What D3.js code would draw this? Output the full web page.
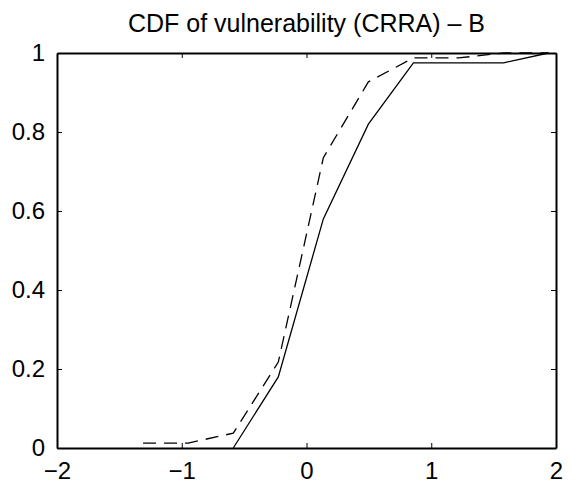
<!DOCTYPE html>
<html>
<head>
<meta charset="utf-8">
<script src="https://cdn.jsdelivr.net/npm/d3@7"></script>
<style>
  html, body { margin: 0; padding: 0; background: #fff; }
  svg { display: block; }
  text { font-family: "Liberation Sans", Arial, Helvetica, sans-serif; fill: #000; }
</style>
</head>
<body>
<svg id="chart" width="575" height="486"></svg>
<script>
// Evaluation grid shared by both empirical CDFs
const gridX = [-1.31, -0.948, -0.587, -0.226, 0.135, 0.496, 0.857, 1.218, 1.579, 1.94];

// Solid series (starts at the first grid point where it leaves zero)
const solidX = [-0.587, -0.226, 0.135, 0.496, 0.857, 1.218, 1.579, 1.94];
const solidY = [0, 0.18, 0.58, 0.82, 0.975, 0.975, 0.975, 1];

// Dashed series
const dashedX = gridX;
const dashedY = [0.0125, 0.0125, 0.0375, 0.2175, 0.735, 0.927, 0.9875, 0.9875, 1, 1];

const xTicks = [-2, -1, 0, 1, 2];
const yTicks = [0, 0.2, 0.4, 0.6, 0.8, 1];
const xTickLabels = ["\u22122", "\u22121", "0", "1", "2"];
const yTickLabels = ["0", "0.2", "0.4", "0.6", "0.8", "1"];
const title = "CDF of vulnerability (CRRA) \u2013 B";

const margin = { left: 57, right: 19, top: 53, bottom: 38 };
const W = 575, H = 486;
const iw = W - margin.left - margin.right;
const ih = H - margin.top - margin.bottom;

const svg = d3.select("#chart");
const g = svg.append("g").attr("transform", `translate(${margin.left},${margin.top})`);

const x = d3.scaleLinear().domain([-2, 2]).range([0, iw]);
const y = d3.scaleLinear().domain([0, 1]).range([ih, 0]);

const line = d3.line().x(d => x(d[0])).y(d => y(d[1]));

// Data lines
g.append("path")
  .datum(solidX.map((v, i) => [v, solidY[i]]))
  .attr("fill", "none").attr("stroke", "#000").attr("stroke-width", 1.3)
  .attr("d", line);

g.append("path")
  .datum(dashedX.map((v, i) => [v, dashedY[i]]))
  .attr("fill", "none").attr("stroke", "#000").attr("stroke-width", 1.3)
  .attr("stroke-dasharray", "13,8")
  .attr("d", line);

// Axes with inward ticks on all four sides (box style)
const tickLen = 5;
const fontSize = 24;

const xBottom = d3.axisBottom(x).tickValues(xTicks).tickSizeInner(-tickLen).tickSizeOuter(0)
  .tickPadding(tickLen + 9).tickFormat((d, i) => xTickLabels[i]);
const xTop = d3.axisTop(x).tickValues(xTicks).tickSizeInner(-tickLen).tickSizeOuter(0).tickFormat("");
const yLeft = d3.axisLeft(y).tickValues(yTicks).tickSizeInner(-tickLen).tickSizeOuter(0)
  .tickPadding(tickLen + 7).tickFormat((d, i) => yTickLabels[i]);
const yRight = d3.axisRight(y).tickValues(yTicks).tickSizeInner(-tickLen).tickSizeOuter(0).tickFormat("");

function style(sel) {
  sel.select(".domain").attr("stroke", "#000").attr("stroke-width", 2);
  sel.selectAll(".tick line").attr("stroke", "#000").attr("stroke-width", 1);
  sel.selectAll(".tick text").attr("font-size", fontSize)
    .attr("font-family", '"Liberation Sans", Arial, sans-serif').attr("fill", "#000");
}

g.append("g").attr("transform", `translate(0,${ih})`).call(xBottom).call(style);
g.append("g").call(xTop).call(style);
g.append("g").call(yLeft).call(style);
g.append("g").attr("transform", `translate(${iw},0)`).call(yRight).call(style);

// Title
svg.append("text")
  .attr("x", margin.left + iw / 2)
  .attr("y", margin.top - 21)
  .attr("text-anchor", "middle")
  .attr("font-size", 25)
  .text(title);
</script>
</body>
</html>
